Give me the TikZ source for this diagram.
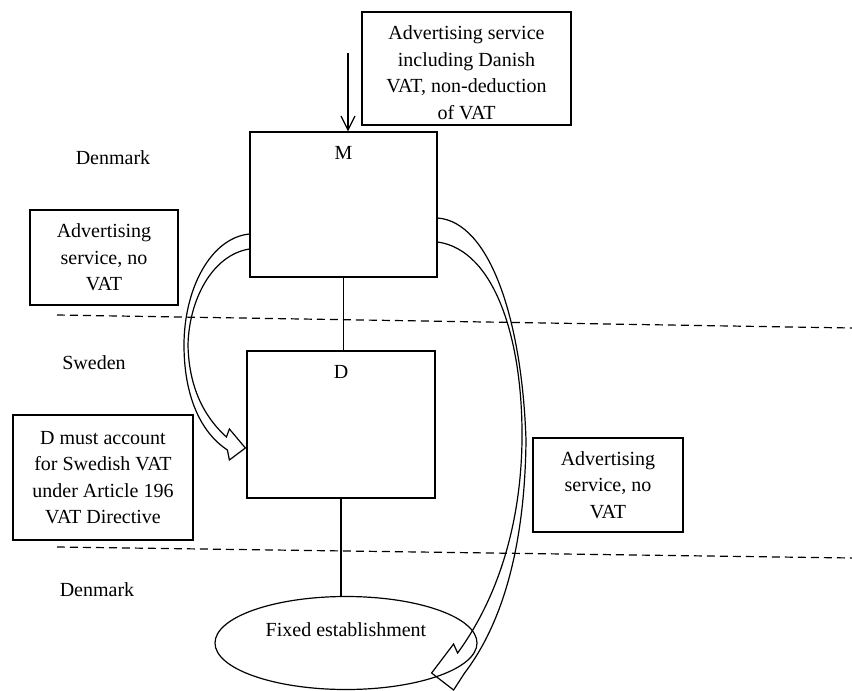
\documentclass[tikz,border=0pt]{standalone}
\usepackage{fontspec}
\setmainfont{Liberation Serif}
\usetikzlibrary{shapes.geometric,arrows.meta,calc}

\begin{document}
\begin{tikzpicture}[
  x=0.5pt, y=-0.5pt,
  semithick,
  every node/.style={font=\fontsize{10}{13.3}\selectfont},
  txtbox/.style={draw, align=center, inner sep=0pt},
  entity/.style={draw, inner sep=0pt},
  border/.style={dash pattern=on 4pt off 2.5pt},
  hollow/.style={line join=miter}
]
\useasboundingbox (0,0) rectangle (852,691);

% countries
\node (dkup) at (113,158) {Denmark};
\node (se) at (94,363) {Sweden};
\node (dklow) at (97,590) {Denmark};

\draw [border] (57,315) -- (852,328);
\draw [border] (57,547) -- (852,558);

% entities
\node [entity, minimum width=93.5pt, minimum height=72.5pt,
  label={[anchor=north,yshift=-4pt]north:M}] (M) at (343.5,204.5) {};
\node [entity, minimum width=94pt, minimum height=73.5pt,
  label={[anchor=north,yshift=-4pt]north:D}] (D) at (341,424.5) {};
\node [entity, ellipse, minimum width=131pt, minimum height=46.5pt,
  label={[yshift=6.5pt]center:Fixed establishment}] (FE) at (346,643) {};

\draw (M.south) -- (M.south |- D.north);
\draw (D.south) -- (D.south |- FE.north);

% notes
\node [txtbox, text height=51pt, minimum width=104.5pt, minimum height=56.5pt] (vatbox) at (466.5,68.5)
  {Advertising service\\including Danish\\VAT, non-deduction\\of VAT};
\node [txtbox, minimum width=74pt, minimum height=47.5pt] (noteleft) at (104,257.5)
  {Advertising\\service, no\\VAT};
\node [txtbox, minimum width=90pt, minimum height=62.5pt] (account) at (103,477.5)
  {D must account\\for Swedish VAT\\under Article 196\\VAT Directive};
\node [txtbox, minimum width=75pt, minimum height=47pt] (noteright) at (608,485)
  {Advertising\\service, no\\VAT};

% supply into M
\coordinate (vatin) at (348,53);
\draw [-{Straight Barb[length=7pt,width=7pt]}] (vatin) -- (vatin |- M.north);

% M to D
\coordinate (lout) at ($(M.west)+(0,29.5)$);
\coordinate (lin) at ($(M.west)+(0,44.5)$);
\coordinate (ltip) at ($(D.west)+(-1,23.5)$);
\draw [hollow] (lout) .. controls (210,238) and (184,290) .. (184,345)
  .. controls (184,395) and (200,432) .. ($(ltip)+(-18,2)$)
  -- ($(ltip)+(-16,12)$) -- (ltip) -- ($(ltip)+(-16,-19)$) -- ($(ltip)+(-19,-11)$)
  .. controls (210,422) and (189,395) .. (188,345)
  .. controls (189,300) and (212,255) .. (lin);

% M to fixed establishment
\coordinate (rout) at ($(M.east)+(0,13.5)$);
\coordinate (rin) at ($(M.east)+(0,37.5)$);
\coordinate (rtip) at ($(FE.east)+(-46,30)$);
\draw [hollow] (rout) .. controls (490,222) and (522,320) .. (526,440)
  .. controls (525,540) and (505,620) .. ($(rtip)+(33,0)$)
  -- ($(rtip)+(22,17)$) -- (rtip) -- ($(rtip)+(22,-29)$) -- ($(rtip)+(26,-20)$)
  .. controls (500,595) and (521,520) .. (522,440)
  .. controls (523,340) and (495,250) .. (rin);

\end{tikzpicture}
\end{document}
